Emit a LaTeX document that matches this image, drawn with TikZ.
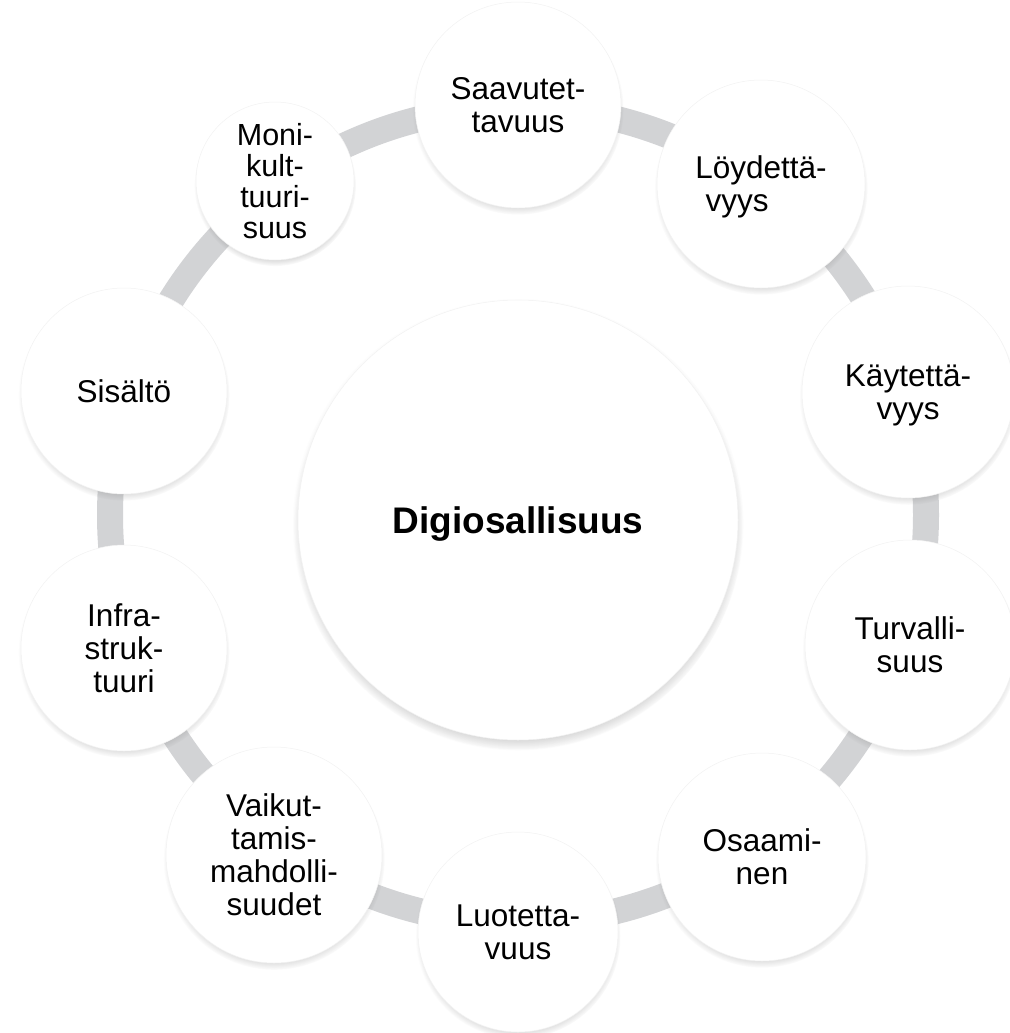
\documentclass[tikz,border=0pt]{standalone}
\usepackage{fontspec}
\setmainfont{Liberation Sans}
\usetikzlibrary{shadows,fadings}
\pgfdeclarelayer{bg}
\pgfsetlayers{bg,main}
\begin{document}
\begin{tikzpicture}[x=1pt,y=-1pt,
  bubble/.style={circle, fill=white, draw=black!5, line width=0.5pt, inner sep=0pt,
    align=center, text depth=0pt, font=\fontsize{31.5}{33}\selectfont,
    circular drop shadow={shadow xshift=0pt, shadow yshift=-4pt, shadow scale=1.025, opacity=0.45, fill=black!55}},
  hub/.style={bubble, font=\fontsize{37}{40}\selectfont\bfseries,
    circular drop shadow={shadow xshift=0pt, shadow yshift=-6pt, shadow scale=1.02, opacity=0.4, fill=black!55}},
  ring/.style={draw={rgb,255:red,210;green,211;blue,213}, line width=26pt}]
\useasboundingbox (0,0) rectangle (1009,1033);

\node[hub, minimum size=440pt] (cen) at (518,520) {Digiosallisuus};

\node[bubble, minimum size=206pt] (n1) at (518,105) {Saavutet-\\tavuus};
\node[bubble, minimum size=208pt] (n2) at (761,184) {Löydettä-\\vyys\hspace*{48pt}};
\node[bubble, minimum size=212pt] (n3) at (908,392) {Käytettä-\\vyys};
\node[bubble, minimum size=210pt] (n4) at (910,645) {Turvalli-\\suus};
\node[bubble, minimum size=208pt] (n5) at (762,857) {Osaami-\\nen};
\node[bubble, minimum size=200pt] (n6) at (518,932) {Luotetta-\\vuus};
\node[bubble, minimum size=216pt] (n7) at (274,855) {Vaikut-\\tamis-\\mahdolli-\\suudet};
\node[bubble, minimum size=206pt] (n8) at (124,648) {Infra-\\struk-\\tuuri};
\node[bubble, minimum size=206pt] (n9) at (124,391) {Sisältö};
\node[bubble, minimum size=158pt, font=\fontsize{30.5}{31}\selectfont] (n10) at (275,181) {Moni-\\kult-\\tuuri-\\suus};

\begin{pgfonlayer}{bg}
  \coordinate (rc) at ([yshift=5pt]cen.center);
  \draw[ring] (rc) circle[radius=408];
\end{pgfonlayer}
\end{tikzpicture}
\end{document}
